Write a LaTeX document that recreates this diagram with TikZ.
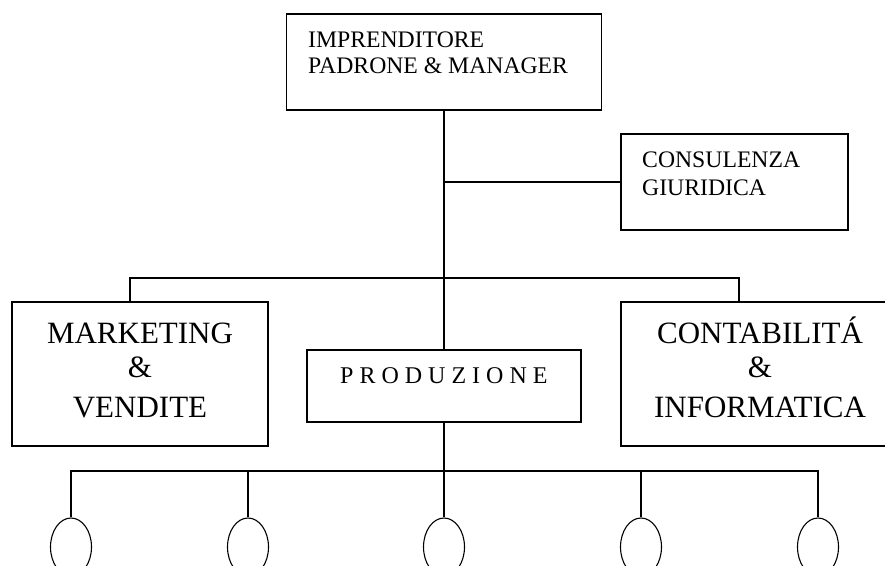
\documentclass[tikz,border=0pt]{standalone}
\usepackage{fontspec}
\setmainfont{Liberation Serif}
\usetikzlibrary{shapes.geometric}

\tikzset{
  box/.style={draw, line width=1.3pt, rectangle, inner sep=0pt},
  unit/.style={draw, line width=1.1pt, ellipse, inner sep=0pt,
               minimum width=41pt, minimum height=58pt},
  link/.style={line width=1.1pt},
  small/.style={inner sep=0pt, font=\fontsize{23.7}{27}\selectfont},
  big/.style={inner sep=0pt, anchor=base, font=\fontsize{31}{37}\selectfont},
}

\begin{document}
\begin{tikzpicture}[x=1pt, y=-1pt]
\useasboundingbox (0,0) rectangle (885,565);

% boxes
\node[box, minimum width=315pt, minimum height=96pt] (top)  at (444,62) {};
\node[box, minimum width=227pt, minimum height=96pt] (cons) at (734.5,182) {};
\node[box, minimum width=256pt, minimum height=144pt] (mk)  at (140,374) {};
\node[box, minimum width=278pt, minimum height=144pt] (ct)  at (760,374) {};
\node[box, minimum width=274pt, minimum height=72pt] (prod) at (444,386) {};

% texts
\node[small, anchor=base west] (top1) at (308,47)    {IMPRENDITORE};
\node[small, anchor=base west] (top2) at (308,73.5)  {PADRONE \& MANAGER};
\node[small, anchor=base west] (cons1) at (642,167)  {CONSULENZA};
\node[small, anchor=base west] (cons2) at (642,195)  {GIURIDICA};

\node[big] (mk1) at (140,343) {MARKETING};
\node[big] (mk2) at (140,377) {\&};
\node[big] (mk3) at (140,417) {VENDITE};

\node[big] (ct1) at (760,343) {CONTABILITÁ};
\node[big] (ct2) at (760,377) {\&};
\node[big] (ct3) at (760,417) {INFORMATICA};

\node[inner sep=0pt, anchor=base west, font=\fontsize{24}{28}\selectfont] (prodt) at (340,383.5)
  {P\kern6pt R\kern6pt O\kern6pt D\kern6pt U\kern6pt Z\kern6pt I\kern6pt O\kern6pt N\kern6pt E};

% production units
\foreach \i/\x in {1/71, 2/248, 3/444, 4/641, 5/818}
  \node[unit] (e\i) at (\x,547) {};

% connectors
\coordinate (ub) at (0,278);
\coordinate (lb) at (0,471);

\draw[link] (top.south) -- (prod.north);
\draw[link] (top.south |- cons.west) -- (cons.west);
\draw[link] ([xshift=-10pt]mk.north) -- ([xshift=-10pt]mk.north |- ub)
            -- ([xshift=-21pt]ct.north |- ub) -- ([xshift=-21pt]ct.north);

\draw[link] (prod.south) -- (e3.north);
\draw[link] (e1.north) -- (e1.north |- lb) -- (e5.north |- lb) -- (e5.north);
\draw[link] (e2.north) -- (e2.north |- lb);
\draw[link] (e4.north) -- (e4.north |- lb);
\end{tikzpicture}
\end{document}
